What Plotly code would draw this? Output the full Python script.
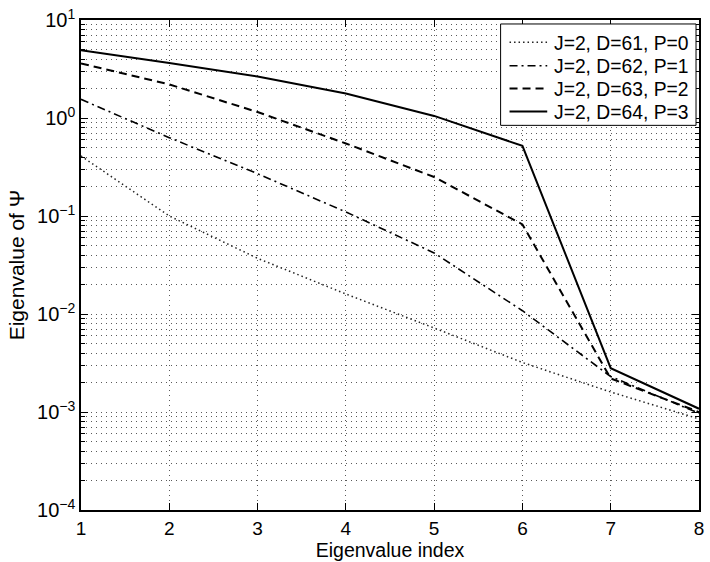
import plotly.graph_objects as go

idx = [1, 2, 3, 4, 5, 6, 7, 8]
p0 = [0.41, 0.10, 0.037, 0.016, 0.0072, 0.0032, 0.0016, 0.00085]
p1 = [1.55, 0.63, 0.27, 0.11, 0.042, 0.0108, 0.0023, 0.00097]
p2 = [3.6, 2.2, 1.15, 0.55, 0.25, 0.082, 0.0022, 0.00100]
p3 = [4.9, 3.65, 2.65, 1.78, 1.05, 0.52, 0.0028, 0.00108]
names = ["J=2, D=61, P=0", "J=2, D=62, P=1", "J=2, D=63, P=2", "J=2, D=64, P=3"]
decades = [-4, -3, -2, -1, 0, 1]

FONT = "Liberation Sans, Arial, Helvetica, sans-serif"
W, H = 710, 562
ML, MR, MT, MB = 81, 6, 17, 52
PW, PH = W - ML - MR, H - MT - MB


def px(x):
    return (x - ML) / PW


def py(y):
    return (H - MB - y) / PH


fig = go.Figure()
styles = [("1.5px,3px", 1.5, "#222222"), ("8px,4px,2px,4px", 1.6, "black"),
          ("8px,5px", 2, "black"), ("solid", 2, "black")]
for ys, nm, (dash, w, c) in zip([p0, p1, p2, p3], names, styles):
    fig.add_trace(go.Scatter(x=idx, y=ys, mode="lines", name=nm, showlegend=False,
                             line=dict(color=c, dash=dash, width=w)))

major = [10.0 ** d for d in decades]
major_text = ["10<sup>%s</sup>" % (str(d).replace("-", "\u2212")) for d in decades]
minor = [m * 10.0 ** d for d in decades[:-1] for m in range(2, 10)]

# manual legend (box, samples, labels)
shapes = [dict(type="rect", xref="paper", yref="paper",
               x0=px(504), x1=px(701), y0=py(123), y1=py(21),
               fillcolor="white", line=dict(color="black", width=1), layer="above")]
annotations = []
row_y = [39.5, 63, 86, 109]
for nm, (dash, w, c), ry in zip(names, styles, row_y):
    shapes.append(dict(type="line", xref="paper", yref="paper",
                       x0=px(513), x1=px(551), y0=py(ry), y1=py(ry),
                       line=dict(color=c, dash=dash, width=w), layer="above"))
    annotations.append(dict(xref="paper", yref="paper", x=px(556), y=py(ry + 1),
                            xanchor="left", yanchor="middle", showarrow=False,
                            text=nm, font=dict(size=19.3, family=FONT, color="black")))

grid_col = "#5a5a5a"
grid_dash = "1px,4px"
fig.update_layout(
    width=W, height=H,
    margin=dict(l=ML, r=MR, t=MT, b=MB),
    paper_bgcolor="white", plot_bgcolor="white",
    font=dict(family=FONT, size=18, color="black"),
    showlegend=False,
    shapes=shapes, annotations=annotations,
    xaxis=dict(range=[1, 8], tickmode="array", tickvals=idx,
               ticktext=[str(i) for i in idx], tickfont=dict(size=19),
               ticks="inside", ticklen=7, tickcolor="black",
               showline=True, linecolor="black", linewidth=1.5, mirror="ticks",
               showgrid=True, gridcolor=grid_col, griddash=grid_dash, gridwidth=1,
               zeroline=False,
               title=dict(text="Eigenvalue index", standoff=2, font=dict(size=19.5))),
    yaxis=dict(type="log", range=[-4, 1], tickmode="array", tickvals=major,
               ticktext=major_text, tickfont=dict(size=20),
               ticks="inside", ticklen=7, tickcolor="black",
               showline=True, linecolor="black", linewidth=1.5, mirror="ticks",
               showgrid=True, gridcolor=grid_col, griddash=grid_dash, gridwidth=1,
               zeroline=False,
               minor=dict(tickmode="array", tickvals=minor, ticks="inside",
                          ticklen=4, tickcolor="black", showgrid=True,
                          gridcolor=grid_col, griddash=grid_dash, gridwidth=1),
               title=dict(text="Eigenvalue of \u03a8", standoff=7, font=dict(size=21))),
)

fig.write_html("out.html")
